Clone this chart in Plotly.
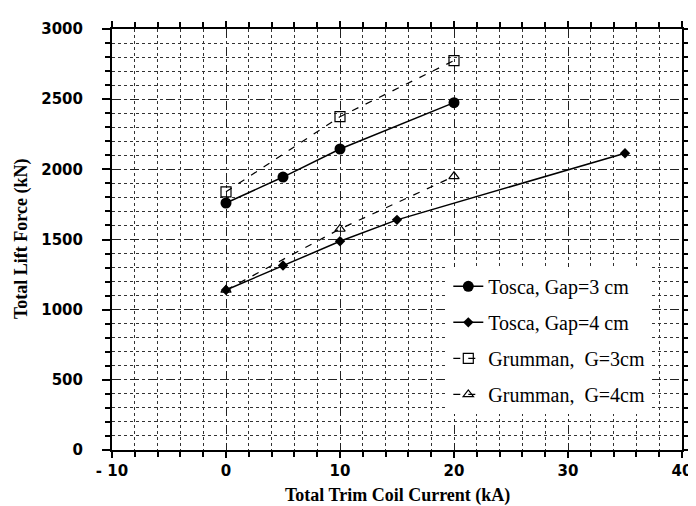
import plotly.graph_objects as go

tosca3_x = [0, 5, 10, 20]
tosca3_y = [1760, 1945, 2145, 2475]
tosca4_x = [0, 5, 10, 15, 35]
tosca4_y = [1140, 1315, 1487, 1640, 2115]
grum3_x = [0, 10, 20]
grum3_y = [1840, 2375, 2775]
grum4_x = [0, 10, 20]
grum4_y = [1140, 1575, 1950]

x_ticks = [-10, 0, 10, 20, 30, 40]
x_ticktext = ["- 10", "0", "10", "20", "30", "40"]
y_ticks = [0, 500, 1000, 1500, 2000, 2500, 3000]

fig = go.Figure()
fig.add_trace(go.Scatter(x=grum4_x, y=grum4_y, mode="lines+markers", name="Grumman,  G=4cm",
                         legendgroup="d", legendrank=4,
                         line=dict(color="black", width=1.2, dash="7px,8px"),
                         marker=dict(symbol="triangle-up-open", size=9, color="black", line=dict(width=1.2))))
fig.add_trace(go.Scatter(x=grum3_x, y=grum3_y, mode="lines+markers", name="Grumman,  G=3cm",
                         legendgroup="c", legendrank=3,
                         line=dict(color="black", width=1.2, dash="7px,8px"),
                         marker=dict(symbol="square-open", size=10, color="black", line=dict(width=1.2))))
fig.add_trace(go.Scatter(x=tosca4_x, y=tosca4_y, mode="lines+markers", name="Tosca, Gap=4 cm",
                         legendgroup="b", legendrank=2,
                         line=dict(color="black", width=1.5),
                         marker=dict(symbol="diamond", size=8, color="black")))
fig.add_trace(go.Scatter(x=tosca3_x, y=tosca3_y, mode="lines+markers", name="Tosca, Gap=3 cm",
                         legendgroup="a", legendrank=1,
                         line=dict(color="black", width=1.5),
                         marker=dict(symbol="circle", size=11, color="black")))

L, R, T, B = 104, 12, 20, 64
pw, ph = 696 - L - R, 506 - T - B

tickfont = dict(family="DejaVu Sans, Arial", size=15, color="black", weight="bold")
titlefont = dict(family="Liberation Serif, Times New Roman", size=18, color="black")
fig.update_layout(
    width=696, height=506,
    margin=dict(l=L, r=R, t=T, b=B),
    paper_bgcolor="white", plot_bgcolor="white",
    showlegend=True,
    legend=dict(x=0.59, y=0.435, xanchor="left", yanchor="top",
                bgcolor="white", borderwidth=0, traceorder="grouped",
                tracegroupgap=7,
                font=dict(family="Liberation Serif, Times New Roman", size=20, color="black")),
    xaxis=dict(range=[-10, 40], tickvals=x_ticks, ticktext=x_ticktext,
               showline=True, linecolor="black", linewidth=2, mirror="allticks",
               ticks="outside", ticklen=6, tickwidth=1.5, tickcolor="black",
               ticklabelstandoff=0,
               showgrid=True, gridcolor="#222", griddash="dash", gridwidth=1,
               zeroline=False, tickfont=tickfont,
               minor=dict(dtick=2, tick0=0, ticks="outside", ticklen=5, tickcolor="black",
                          showgrid=True, gridcolor="#333", griddash="dot", gridwidth=1)),
    yaxis=dict(range=[0, 3000], tickvals=y_ticks,
               showline=True, linecolor="black", linewidth=2, mirror="allticks",
               ticks="outside", ticklen=8, tickwidth=1.5, tickcolor="black",
               ticklabelstandoff=16,
               showgrid=True, gridcolor="#222", griddash="dash", gridwidth=1,
               zeroline=False, tickfont=tickfont,
               minor=dict(dtick=100, tick0=0, ticks="outside", ticklen=5, tickcolor="black",
                          showgrid=True, gridcolor="#333", griddash="dot", gridwidth=1)),
    annotations=[
        dict(text="<b>Total Trim Coil Current (kA)</b>", xref="paper", yref="paper",
             x=(395 - L) / pw, y=(506 - B - 488) / ph, xanchor="center", yanchor="middle",
             showarrow=False, font=titlefont),
        dict(text="<b>Total Lift Force (kN)</b>", xref="paper", yref="paper",
             x=(12 - L) / pw, y=(506 - B - 231) / ph, xanchor="center", yanchor="middle",
             showarrow=False, textangle=-90, font=titlefont),
    ],
)

fig.write_html("out.html")
